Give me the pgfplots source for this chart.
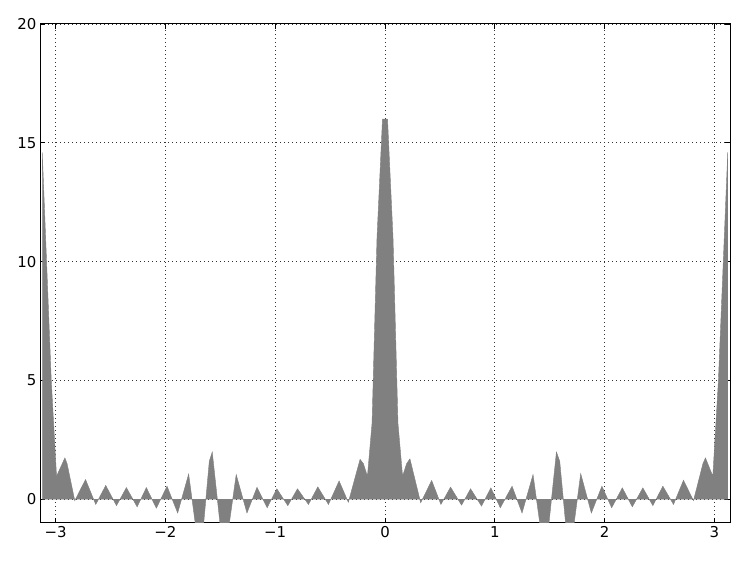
\documentclass[border=0pt]{standalone}
\usepackage{fontspec}
\setmainfont{DejaVu Sans}
\usepackage{pgfplots}
\pgfplotsset{compat=1.18}

\begin{document}
\begin{tikzpicture}
\begin{axis}[
  scale only axis,
  width=690bp, height=499bp,
  xmin=-3.14159, xmax=3.14159,
  ymin=-1, ymax=20,
  xtick={-3,-2,-1,0,1,2,3},
  xticklabels={−3,−2,−1,0,1,2,3},
  ytick={0,5,10,15,20},
  yticklabels={0,5,10,15,20},
  tick align=inside,
  major tick length=5bp,
  tick style={black, line width=0.8bp},
  axis line style={black, line width=1bp},
  grid=major,
  grid style={black!80, line width=0.7bp, dash pattern=on 1bp off 3bp},
  ticklabel style={font=\fontsize{15}{18}\selectfont},
]
% sampled curve, filled down to zero
\addplot[fill=gray, draw=gray, line width=0.4bp] coordinates {
  (-3.121,0) (-3.121,14.6) (-3.039,5.0) (-2.991,0.97) (-2.915,1.74)
  (-2.895,1.5) (-2.825,-0.06) (-2.727,0.83) (-2.634,-0.22) (-2.543,0.58)
  (-2.445,-0.27) (-2.355,0.49) (-2.257,-0.32) (-2.173,0.49) (-2.082,-0.38)
  (-1.985,0.55) (-1.888,-0.58) (-1.788,1.06) (-1.682,-2.6) (-1.600,1.6)
  (-1.573,1.99) (-1.466,-2.6) (-1.355,1.04) (-1.257,-0.58) (-1.166,0.5)
  (-1.073,-0.36) (-0.985,0.44) (-0.885,-0.27) (-0.797,0.44) (-0.697,-0.22)
  (-0.612,0.52) (-0.515,-0.22) (-0.418,0.77) (-0.334,-0.13) (-0.227,1.68)
  (-0.197,1.5) (-0.16,0.97) (-0.118,3.2) (-0.073,11.0) (-0.023,16.0)
  (0.023,16.0) (0.073,11.0) (0.118,3.2) (0.16,0.97) (0.197,1.5)
  (0.227,1.70) (0.325,-0.15) (0.425,0.79) (0.509,-0.22) (0.597,0.51)
  (0.697,-0.25) (0.779,0.44) (0.879,-0.29) (0.964,0.48) (1.05,-0.36)
  (1.157,0.55) (1.248,-0.58) (1.348,1.04) (1.457,-2.6) (1.561,1.99)
  (1.591,1.6) (1.677,-2.6) (1.782,1.08) (1.879,-0.58) (1.975,0.55)
  (2.064,-0.36) (2.161,0.48) (2.252,-0.32) (2.348,0.48) (2.439,-0.27)
  (2.53,0.55) (2.627,-0.22) (2.718,0.8) (2.809,-0.06) (2.895,1.5)
  (2.918,1.74) (2.985,0.97) (3.036,5.0) (3.121,14.6) (3.121,0)
} \closedcycle;
\end{axis}
\path (current axis.south west) +(-40bp,-38bp) (current axis.north east) +(17bp,24bp);
\end{tikzpicture}
\end{document}
